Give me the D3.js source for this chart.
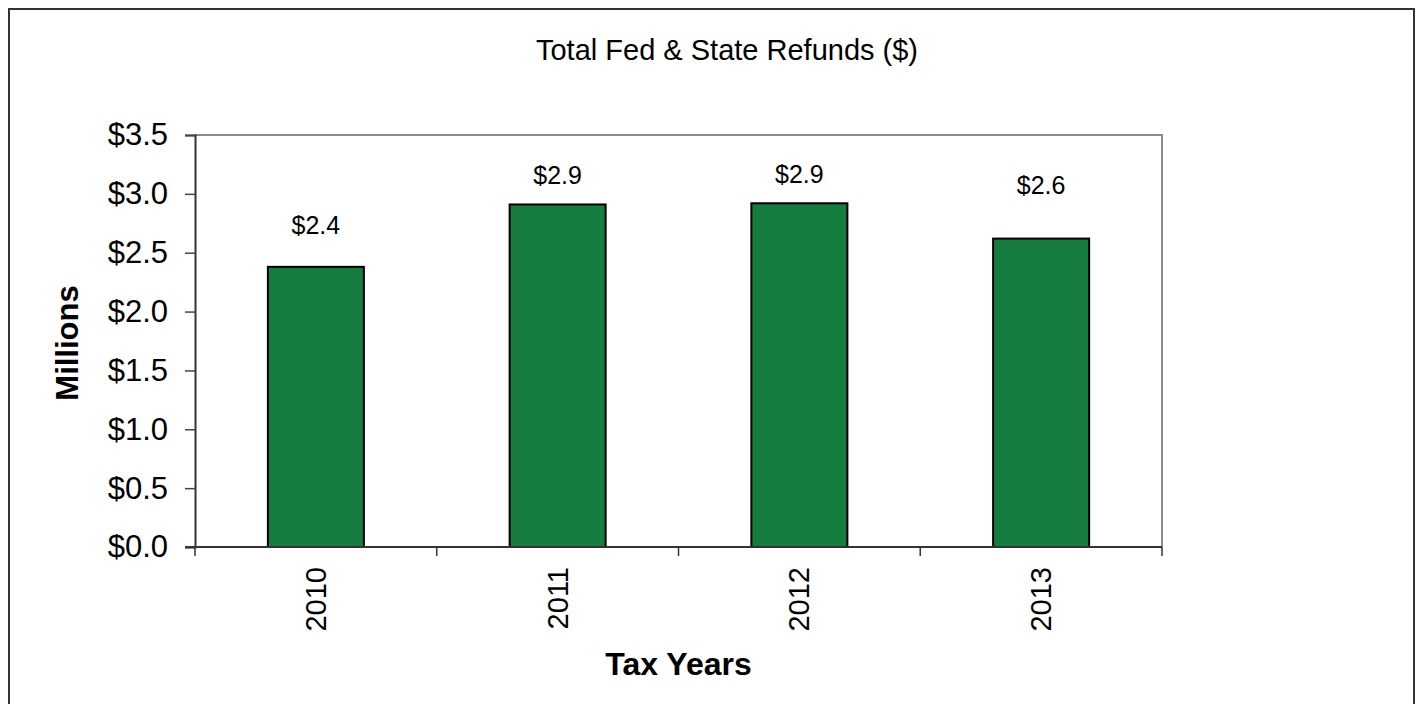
<!DOCTYPE html>
<html>
<head>
<meta charset="utf-8">
<script src="https://cdn.jsdelivr.net/npm/d3@7"></script>
<style>
  html, body { margin: 0; padding: 0; background: #fff; }
  svg { display: block; }
  text { font-family: Arial, "Liberation Sans", sans-serif; fill: #000; }
</style>
</head>
<body>
<svg id="chart" width="1419" height="704"></svg>
<script>
// ---- data ----
const years = ["2010", "2011", "2012", "2013"];
const refunds = [2.38, 2.91, 2.92, 2.62];           // millions of dollars
const valueLabels = ["$2.4", "$2.9", "$2.9", "$2.6"];
const yTicks = [0, 0.5, 1.0, 1.5, 2.0, 2.5, 3.0, 3.5];
const chartTitle = "Total Fed & State Refunds ($)";
const xTitle = "Tax Years";
const yTitle = "Millions";

// ---- layout ----
const W = 1419, H = 704;
const plot = { left: 195, right: 1162, top: 135, bottom: 547 };
const labelLift = [33, 20, 20, 45];   // label offsets above each bar (as in the original)

const svg = d3.select("#chart");

// outer frame
svg.append("rect")
  .attr("x", 9).attr("y", 9)
  .attr("width", 1405).attr("height", 720)
  .attr("fill", "#fff").attr("stroke", "#333").attr("stroke-width", 2);

const y = d3.scaleLinear().domain([0, 3.5]).range([plot.bottom, plot.top]);
const pad = 1 - 96 / ((plot.right - plot.left) / years.length);
const x = d3.scaleBand().domain(years).range([plot.left, plot.right])
  .paddingInner(pad).paddingOuter(pad / 2);

// plot area top/right border
svg.append("path")
  .attr("d", `M${plot.left},${plot.top}H${plot.right}V${plot.bottom}`)
  .attr("fill", "none").attr("stroke", "#8c8c8c").attr("stroke-width", 2);

// bars
svg.selectAll("rect.bar").data(refunds).join("rect")
  .attr("class", "bar")
  .attr("x", (d, i) => x(years[i]))
  .attr("y", d => y(d))
  .attr("width", x.bandwidth())
  .attr("height", d => y(0) - y(d))
  .attr("fill", "#167c3f")
  .attr("stroke", "#000").attr("stroke-width", 2);

// value labels
svg.selectAll("text.vlab").data(refunds).join("text")
  .attr("class", "vlab")
  .attr("x", (d, i) => x(years[i]) + x.bandwidth() / 2)
  .attr("y", (d, i) => y(d) - labelLift[i])
  .attr("text-anchor", "middle")
  .attr("font-size", 25)
  .text((d, i) => valueLabels[i]);

// y axis
const yAxis = d3.axisLeft(y).tickValues(yTicks).tickSize(10).tickPadding(17)
  .tickFormat(d => "$" + d3.format(".1f")(d));
const gy = svg.append("g").attr("transform", `translate(${plot.left},0)`).call(yAxis);
gy.select(".domain").attr("stroke", "#333").attr("stroke-width", 2);
gy.selectAll(".tick line").attr("stroke", "#444").attr("stroke-width", 1.5);
gy.selectAll(".tick text").attr("font-size", 31)
  .attr("font-family", "Arial, 'Liberation Sans', sans-serif").attr("fill", "#000");

// x axis: category boundary ticks
const step = x.step();
const boundaries = d3.range(years.length + 1).map(i => plot.left + i * step);
svg.append("line")
  .attr("x1", plot.left - 10).attr("x2", plot.right)
  .attr("y1", plot.bottom).attr("y2", plot.bottom)
  .attr("stroke", "#333").attr("stroke-width", 2);
svg.selectAll("line.xtick").data(boundaries).join("line")
  .attr("class", "xtick")
  .attr("x1", d => d).attr("x2", d => d)
  .attr("y1", plot.bottom).attr("y2", plot.bottom + 9)
  .attr("stroke", "#333").attr("stroke-width", 1.5);

// x labels (rotated)
svg.selectAll("text.xlab").data(years).join("text")
  .attr("class", "xlab")
  .attr("transform", d => `translate(${x(d) + x.bandwidth() / 2},${plot.bottom + 20}) rotate(-90)`)
  .attr("text-anchor", "end")
  .attr("dominant-baseline", "central")
  .attr("font-size", 29)
  .text(d => d);

// titles
svg.append("text")
  .attr("x", 727).attr("y", 60)
  .attr("text-anchor", "middle")
  .attr("font-size", 29)
  .text(chartTitle);

svg.append("text")
  .attr("x", (plot.left + plot.right) / 2).attr("y", 675)
  .attr("text-anchor", "middle")
  .attr("font-size", 32).attr("font-weight", "bold")
  .text(xTitle);

svg.append("text")
  .attr("transform", `translate(78,${(plot.top + plot.bottom) / 2 + 2}) rotate(-90)`)
  .attr("text-anchor", "middle")
  .attr("font-size", 31).attr("font-weight", "bold")
  .text(yTitle);
</script>
</body>
</html>
